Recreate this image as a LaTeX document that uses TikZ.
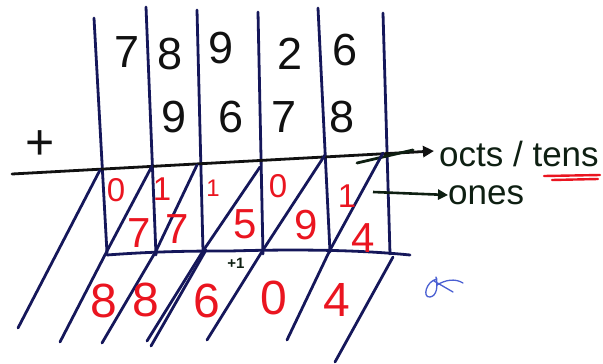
\documentclass[tikz,border=0pt]{standalone}
\usepackage{fontspec}
\setmainfont{Liberation Sans}
\usetikzlibrary{arrows.meta}
\definecolor{ink}{HTML}{15175A}
\definecolor{pen}{HTML}{111111}
\definecolor{rpen}{HTML}{EA1520}
\definecolor{gpen}{HTML}{0E1F12}
\definecolor{bpen}{HTML}{4A5FD2}
\tikzset{
  stroke/.style={draw=ink, line width=2.8pt, line cap=round, line join=round},
  topdig/.style={inner sep=0pt, text=pen, font=\fontsize{45}{45}\selectfont},
  tensdig/.style={inner sep=0pt, text=rpen, font=\fontsize{33}{33}\selectfont},
  onesdig/.style={inner sep=0pt, text=rpen, font=\fontsize{42}{42}\selectfont},
  sumdig/.style={inner sep=0pt, text=rpen, font=\fontsize{48}{48}\selectfont},
  lbl/.style={inner sep=0pt, anchor=west, text=gpen, font=\fontsize{35}{35}\selectfont},
  arr/.style={draw=gpen, line width=2.6pt, -{Triangle[length=10pt,width=10pt]}}
}
\begin{document}
\begin{tikzpicture}[x=1pt,y=-1pt]
\useasboundingbox (0,0) rectangle (603,364);
% vertical column lines
\coordinate (v1a) at (94,18);  \coordinate (v1b) at (107,253);
\coordinate (v2a) at (146,7);  \coordinate (v2b) at (156,255);
\coordinate (v3a) at (197,10); \coordinate (v3b) at (203,251);
\coordinate (v4a) at (258,12); \coordinate (v4b) at (263,254);
\coordinate (v5a) at (318,8);  \coordinate (v5b) at (330,252);
\coordinate (v6a) at (383,13); \coordinate (v6b) at (390,254);
\foreach \i in {1,...,6} \draw[stroke] (v\i a) -- (v\i b);
% sum line with arrow
\coordinate (hl) at (12,174);
\coordinate (hr) at (434,151);
\draw[stroke, draw=pen, -{Triangle[length=11pt,width=11pt]}] (hl) -- (hr);
\coordinate (s1) at (357,163); \coordinate (s2) at (413,150);
\draw[stroke, draw=gpen] (s1) -- (s2);
% bottom line
\coordinate (bl) at (107,255); \coordinate (bm) at (230,251); \coordinate (br) at (410,255);
\draw[stroke] (bl) .. controls (160,251) and (200,251) .. (bm) .. controls (300,249) and (360,250) .. (br);
% diagonals
\draw[stroke] (100,170) -- (18,328);
\draw[stroke] (152,166) -- (107,251) -- (60,342);
\draw[stroke] (197,165) -- (156,251) -- (102,343);
\draw[stroke] (260,167) -- (203,251) -- (147,341);
\draw[stroke] (206,250) -- (151,346);
\draw[stroke] (325,155) -- (263,250) -- (207,340);
\draw[stroke] (383,153) -- (330,250) -- (287,340);
\draw[stroke] (393,257) -- (335,362);
% addends
\node[topdig] (a1) at (127,52) {7};
\node[topdig] (a2) at (170,54) {8};
\node[topdig] (a3) at (221,48) {9};
\node[topdig] (a4) at (290,54) {2};
\node[topdig] (a5) at (345,50) {6};
\node[topdig] (b2) at (174,117) {9};
\node[topdig] (b3) at (231,117) {6};
\node[topdig] (b4) at (284,117) {7};
\node[topdig] (b5) at (342,117) {8};
\node[inner sep=0pt, text=pen, font=\fontsize{50}{50}\selectfont] (plus) at (40,145) {+};
% lattice tens
\node[tensdig] (t1) at (116,190) {0};
\node[tensdig] (t2) at (162,189) {1};
\node[tensdig, font=\fontsize{24}{24}\selectfont] (t3) at (213,188) {1};
\node[tensdig] (t4) at (278,186) {0};
\node[tensdig] (t5) at (347,196) {1};
% lattice ones
\node[onesdig] (o1) at (139,233) {7};
\node[onesdig] (o2) at (177,229) {7};
\node[onesdig] (o3) at (245,224) {5};
\node[onesdig] (o4) at (306,225) {9};
\node[onesdig] (o5) at (363,238) {4};
% sum
\node[sumdig] (r1) at (104,301) {8};
\node[sumdig] (r2) at (146,300) {8};
\node[sumdig] (r3) at (207,301) {6};
\node[sumdig] (r4) at (274,298) {0};
\node[sumdig] (r5) at (337,300) {4};
\node[inner sep=0pt, text=gpen, font=\fontsize{15}{15}\selectfont\bfseries] (carry) at (236,263) {+1};
% labels
\node[lbl] (octs) at (439,154) {octs / tens};
\coordinate (ua) at (544,176); \coordinate (ub) at (600,175);
\coordinate (uc) at (552,180); \coordinate (ud) at (598,179);
\draw[draw=rpen, line width=2.4pt, line cap=round] (ua) -- (ub);
\draw[draw=rpen, line width=2.4pt, line cap=round] (uc) -- (ud);
\coordinate (oa) at (373,192);
\node[lbl] (ones) at (448,195) {ones};
\draw[arr] (oa) -- (ones.west);
% blue scribble
\draw[bpen, line width=1.3pt, line cap=round]
  (437,279) .. controls (426,281) and (422,298) .. (430,297) .. controls (437,296) and (438,286) .. (436,277)
  (434,281) -- (453,292)
  (437,285) .. controls (445,280) and (455,278) .. (463,283);
\end{tikzpicture}
\end{document}
